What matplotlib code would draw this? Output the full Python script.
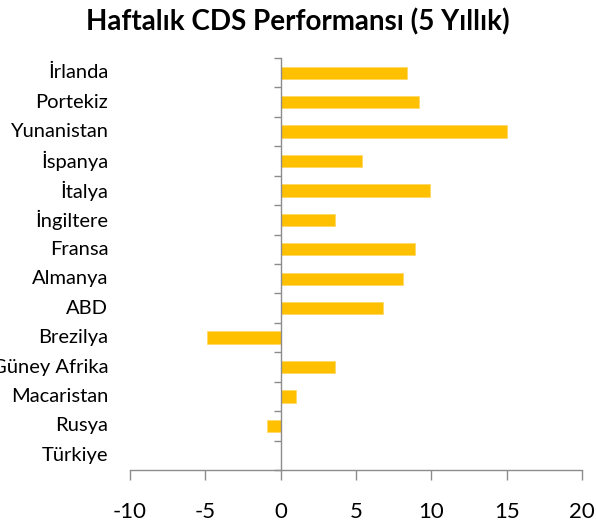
import matplotlib
matplotlib.use('Agg')
import matplotlib.pyplot as plt
from matplotlib.transforms import blended_transform_factory

# weekly 5y CDS change, top to bottom as in the chart
countries = ['İrlanda', 'Portekiz', 'Yunanistan', 'İspanya', 'İtalya',
             'İngiltere', 'Fransa', 'Almanya', 'ABD', 'Brezilya',
             'Güney Afrika', 'Macaristan', 'Rusya', 'Türkiye']
values = [8.4, 9.2, 15.0, 5.4, 9.9, 3.6, 8.9, 8.1, 6.8, -4.9, 3.6, 1.0, -0.9, 0.0]
xticks = [-10, -5, 0, 5, 10, 15, 20]

plt.rcParams['font.family'] = ['Lato', 'DejaVu Sans']

fig = plt.figure(figsize=(5.96, 5.30), dpi=100)
ax = fig.add_axes([130 / 596, 1 - 470 / 530, 452 / 596, 412 / 530])

ypos = list(range(len(countries)))
ax.barh(ypos, values, height=0.42, color='#FFC000', edgecolor='#FFD966',
        linewidth=0.6, zorder=2)

ax.set_xlim(-10, 20)
ax.set_ylim(len(countries) - 0.5, -0.5)

# category axis sits at zero, ticks between categories
ax.spines['left'].set_position(('data', 0))
for s in ['top', 'right']:
    ax.spines[s].set_visible(False)
for s in ['left', 'bottom']:
    ax.spines[s].set_color('#8c8c8c')
    ax.spines[s].set_linewidth(1.0)

ax.set_yticks([i - 0.5 for i in range(len(countries) + 1)])
ax.set_yticklabels([])
ax.tick_params(axis='y', direction='out', length=5, color='#8c8c8c', width=1.0)

ax.set_xticks(xticks)
ax.set_xticklabels([str(t) for t in xticks])
ax.tick_params(axis='x', direction='out', length=7, color='#8c8c8c', width=1.0,
               labelsize=16, pad=16)

# category labels at the left edge of the plot area
trans = blended_transform_factory(ax.transAxes, ax.transData)
for y, name in zip(ypos, countries):
    ax.text(-0.048, y, name, transform=trans, ha='right', va='center',
            fontsize=14.5, color='black')

fig.text(0.5, 1 - 22 / 530, 'Haftalık CDS Performansı (5 Yıllık)',
         ha='center', va='center', fontsize=20, fontweight='bold')

fig.savefig('out.png', dpi=100)
